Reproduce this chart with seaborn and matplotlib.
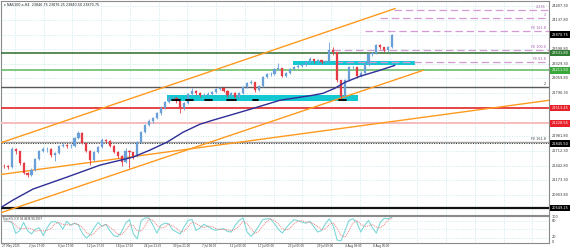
import matplotlib
matplotlib.use("Agg")
import matplotlib.pyplot as plt
import matplotlib.transforms as mtrans
import numpy as np
import pandas as pd
import seaborn as sns

# ---------------- data ----------------
symbol_title = "NAS100.a,H4  23846.75 23876.25 23840.50 23870.75"
stoch_title = "Stoch(5,3,3) 94.4636 90.2937"

first_open = 21440
closes = [21432, 21413, 21747, 21710, 21487, 21302, 21265, 21358, 21561, 21710,
          21747, 21747, 21636, 21673, 21803, 21821, 21803, 21803, 21951, 22044,
          21858, 21710, 21543, 21691, 21784, 21914, 21895, 21803, 21691, 21617,
          21506, 21710, 21691, 21617, 21877, 22062, 22192, 22266, 22322, 22414,
          22507, 22618, 22692, 22692, 22637, 22507, 22600, 22767, 22822, 22785,
          22748, 22748, 22767, 22804, 22859, 22878, 22822, 22748, 22785, 22711,
          22785, 22896, 22971, 22989, 22841, 22915, 23082, 23137, 23137, 23230,
          23249, 23100, 23156, 23230, 23267, 23286, 23304, 23360, 23415, 23378,
          23395, 23360, 23380, 23582, 23545, 23026, 22730, 23026, 23267, 23267,
          23100, 23156, 23323, 23508, 23527, 23675, 23638, 23582, 23638, 23871]
highs = [21480, 21450, 21790, 21770, 21720, 21500, 21330, 21390, 21590, 21740,
         21790, 21780, 21760, 21700, 21830, 21870, 21850, 21840, 21980, 22080,
         22060, 21870, 21730, 21720, 21810, 21950, 21940, 21910, 21820, 21710,
         21630, 21760, 21730, 21700, 21900, 22090, 22220, 22300, 22350, 22440,
         22540, 22650, 22730, 22740, 22710, 22650, 22630, 22790, 22880, 22840,
         22800, 22790, 22800, 22830, 22890, 22910, 22900, 22840, 22810, 22800,
         22810, 22920, 23000, 23030, 23000, 22940, 23100, 23170, 23180, 23260,
         23340, 23260, 23180, 23260, 23290, 23320, 23340, 23390, 23450, 23430,
         23420, 23410, 23410, 23731, 23640, 23560, 23040, 23050, 23290, 23300,
         23280, 23190, 23350, 23540, 23560, 23700, 23700, 23650, 23670, 23895]
lows = [21400, 21380, 21400, 21660, 21460, 21280, 21230, 21240, 21340, 21540,
        21690, 21700, 21600, 21523, 21650, 21780, 21770, 21760, 21790, 21930,
        21840, 21690, 21450, 21520, 21670, 21770, 21860, 21780, 21670, 21590,
        21431, 21490, 21395, 21560, 21600, 21860, 22040, 22170, 22240, 22300,
        22390, 22490, 22600, 22660, 22610, 22414, 22480, 22580, 22750, 22760,
        22720, 22710, 22730, 22750, 22790, 22840, 22800, 22720, 22730, 22690,
        22700, 22770, 22880, 22950, 22810, 22820, 22900, 23060, 23110, 23120,
        23210, 23080, 23080, 23140, 23210, 23250, 23270, 23290, 23340, 23350,
        23340, 23330, 23340, 23370, 23500, 23000, 22655, 22700, 23010, 23230,
        23060, 23080, 23140, 23300, 23480, 23510, 23610, 23560, 23560, 23620]

ma_idx = [-1.0, 2.3, 7.4, 16.1, 24.5, 32.9, 37.2, 41.6, 45.7, 50.0,
          53.3, 62.0, 70.4, 78.8, 81.4, 84.4, 87.0, 90.8, 95.9, 99.7]
ma_val = [20653, 20801, 21005, 21228, 21450, 21598, 21728, 21877, 22062, 22210,
          22285, 22470, 22655, 22748, 22785, 22878, 22989, 23100, 23212, 23304]

stoch_main = [79, 79, 75, 35, 45, 75, 45, 33, 50, 55,
              27, 55, 76, 78, 72, 50, 79, 65, 72, 65,
              35, 18, 30, 55, 75, 60, 68, 45, 27, 23,
              40, 72, 85, 33, 15, 82, 91, 91, 65, 36,
              64, 72, 70, 48, 40, 33, 60, 83, 85, 45,
              55, 68, 60, 52, 46, 50, 52, 42, 40, 65,
              82, 91, 40, 24, 40, 62, 85, 88, 88, 70,
              50, 36, 55, 72, 85, 81, 76, 72, 79, 60,
              40, 45, 70, 88, 62, 10, 8, 45, 82, 88,
              75, 40, 65, 82, 55, 36, 75, 90, 88, 94.46]
stoch_signal = [79, 79, 78, 63, 52, 52, 55, 51, 43, 46,
                44, 46, 53, 70, 75, 67, 67, 65, 72, 67,
                57, 39, 28, 34, 53, 63, 68, 58, 47, 32,
                30, 45, 66, 63, 44, 43, 63, 88, 82, 64,
                55, 57, 69, 63, 53, 40, 44, 59, 76, 71,
                62, 56, 61, 60, 53, 49, 49, 48, 45, 49,
                62, 79, 71, 52, 35, 42, 62, 78, 87, 82,
                69, 52, 47, 54, 71, 79, 81, 76, 76, 70,
                60, 48, 52, 68, 73, 53, 27, 21, 45, 72,
                82, 68, 60, 62, 67, 58, 55, 67, 84, 90.29]

price_ticks = [24407.30, 24137.80, 23868.30, 23598.80, 23329.30, 23059.80, 22790.30,
               22520.80, 22251.30, 21981.80, 21712.30, 21442.80, 21173.30, 20903.80]
time_labels = ["27 May 2025", "2 Jun 17:00", "6 Jun 17:00", "12 Jun 17:00", "18 Jun 17:00",
               "24 Jun 21:00", "30 Jun 21:00", "7 Jul 00:00", "11 Jul 05:00", "17 Jul 05:00",
               "23 Jul 05:00", "29 Jul 09:00", "4 Aug 09:00", "8 Aug 05:00"]
time_tick_idx = [-0.5, 6.4, 13.8, 21.2, 28.6, 35.7, 43.1, 50.5, 57.7, 64.8, 72.4, 79.9, 87.0, 94.1]

# horizontal levels
level_prices = [23532, 23211.5, 22905, 22512.5, 22229, 21886, 21858, 20653]
level_colors = ["#2e6b2e", "#5cb85c", "#5a5a5a", "#e32626", "#f5bcbc", "#a0a0a0", "#333333", "#111111"]
level_widths = [1.1, 1.1, 1.0, 1.2, 1.4, 1.0, 0.7, 1.6]
level_styles = ["-", "-", "-", "-", "-", "-", (0, (1, 1.5)), "-"]
box_prices = [23870.75, 23532, 23211.5, 22512.5, 22229, 21850, 20653]
box_labels = ["23870.75", "23531.80", "23211.50", "22513.45", "22228.55", "21845.50", "20649.25"]
box_colors = ["#000000", "#2e7d32", "#3aa83a", "#e8202a", "#e8202a", "#000000", "#000000"]

# fibonacci expansion levels
fe_prices = [24337, 24188, 23940, 23582, 23360]
fe_labels = ["2.236", "2", "FE 161.8", "FE 100.0", "FE 61.8"]
fe_start = [99.5, 96.0, 92.0, 84.0, 84.5]

# trend lines (index, price) endpoints
trend_x = [(-1.0, 99.8), (-1.0, 106.9), (-1.0, 140.0)]
trend_y = [(21860, 24360), (20560, 23211), (21274, 22664)]

# zones
zone_x = [(41.6, 90.3), (73.7, 104.8)]
zone_y = [(22637, 22748), (23313, 23384)]
mark_x = [(42.9, 44.9), (46.4, 48.2), (51.3, 53.1), (56.9, 59.2), (63.5, 64.8), (85.5, 87.2)]
mark_price = 22665

# ---------------- figure ----------------
W, H = 571, 250
sns.set_theme(style="white")
plt.rcParams['font.family'] = ['DejaVu Sans']
fig = plt.figure(figsize=(W / 100, H / 100), dpi=100)
fig.patch.set_facecolor("white")


def rect(l, t, r, b):
    return [l / W, 1 - b / H, (r - l) / W, (b - t) / H]


ax = fig.add_axes(rect(1, 0.5, 549, 215))
axs = fig.add_axes(rect(1, 215.5, 549, 243))
XL = (-0.765, 139.03)
for a in (ax, axs):
    a.set_xlim(*XL)
    a.set_facecolor("white")
    a.set_xticks([])
    a.set_yticks([])
    for s in a.spines.values():
        s.set_color("#8a8a8a")
        s.set_linewidth(0.8)
ax.set_ylim(20523, 24509)
axs.set_ylim(0, 100)

grid_kw = dict(color="#bfe3ea", lw=0.5, ls=(0, (1.5, 2)), zorder=0)
for gx in np.arange(2.8, 139, 7.334):
    ax.axvline(gx, **grid_kw)
    axs.axvline(gx, **grid_kw)
for p in price_ticks:
    ax.axhline(p, **grid_kw)
for lv in (20, 50, 80):
    axs.axhline(lv, **grid_kw)

# candles
df = pd.DataFrame({"close": closes, "high": highs, "low": lows})
df["open"] = [first_open] + closes[:-1]
df["idx"] = np.arange(len(df))
df["up"] = df["close"] >= df["open"]
up_c, dn_c = "#6a9fd8", "#e63a44"
for up, col in ((True, up_c), (False, dn_c)):
    d = df[df["up"] == up]
    ax.vlines(d["idx"], d["low"], d["high"], color=col, lw=0.6, zorder=4)
    h = (d["close"] - d["open"]).abs().clip(lower=4)
    ax.bar(d["idx"], h, bottom=np.minimum(d["open"], d["close"]), width=0.55,
           color=col, edgecolor=col, lw=0.2, zorder=5)

# levels
for p, c, w, st in zip(level_prices, level_colors, level_widths, level_styles):
    ax.axhline(p, color=c, lw=w, ls=st, zorder=3)

# trend lines
for (x0, x1), (y0, y1) in zip(trend_x, trend_y):
    ax.plot([x0, x1], [y0, y1], color="#ff9a1f", lw=1.0, zorder=3)

# zones
for (x0, x1), (y0, y1) in zip(zone_x, zone_y):
    ax.add_patch(plt.Rectangle((x0, y0), x1 - x0, y1 - y0, color="#14c8d2", zorder=2, lw=0))
for x0, x1 in mark_x:
    ax.plot([x0, x1], [mark_price, mark_price], color="black", lw=1.3, zorder=6)

# fib expansion
fs_lab = 2.4
for p, lab, xs in zip(fe_prices, fe_labels, fe_start):
    ax.plot([xs, XL[1]], [p, p], color="#d39ad6", lw=0.9, ls=(0, (6, 3)), zorder=3)
    ax.text(138.2, p + 22, lab, fontsize=fs_lab, color="#a060a8", ha="right", va="bottom", zorder=7)
ax.text(138.2, 21886 + 18, "FE 161.8", fontsize=fs_lab, color="#444444", ha="right", va="bottom", zorder=7)
ax.text(138.2, 22905 + 18, "2", fontsize=fs_lab, color="#333333", ha="right", va="bottom", zorder=7)

# moving average
sns.lineplot(x=ma_idx, y=ma_val, ax=ax, color="#2e2e96", lw=1.0, zorder=6, estimator=None, sort=False)

# stochastic
sidx = np.arange(len(stoch_main))
sns.lineplot(x=sidx, y=stoch_main, ax=axs, color="#7fd8d8", lw=0.8, estimator=None)
sns.lineplot(x=sidx, y=stoch_signal, ax=axs, color="#f07c7c", lw=0.7, ls=(0, (1, 1)), estimator=None)
for a in (ax, axs):
    a.set_xlabel("")
    a.set_ylabel("")

# texts
ax.text(0.006, 0.988, "\u25BE " + symbol_title, transform=ax.transAxes, fontsize=2.4,
        color="#222222", va="top", ha="left", zorder=8)
axs.text(0.004, 0.93, stoch_title, transform=axs.transAxes, fontsize=1.9,
         color="#333333", va="top", ha="left")

fs_axis = 2.5
trans = mtrans.blended_transform_factory(fig.transFigure, ax.transData)
for p in price_ticks:
    ax.text(552 / W, p, f"{p:.2f}", transform=trans, fontsize=fs_axis, color="#333333",
            va="center", ha="left", clip_on=False)
for p, lab, c in zip(box_prices, box_labels, box_colors):
    ax.text(551.5 / W, p, lab, transform=trans, fontsize=fs_axis, color="white",
            va="center", ha="left", clip_on=False, zorder=10,
            bbox=dict(boxstyle="square,pad=0.4", fc=c, ec="none"))
trans_s = mtrans.blended_transform_factory(fig.transFigure, axs.transData)
for v, lab in ((96, "100"), (80, "80"), (20, "20"), (4, "0")):
    axs.text(552 / W, v, lab, transform=trans_s, fontsize=fs_axis, color="#333333",
             va="center", ha="left", clip_on=False)

trans_x = mtrans.blended_transform_factory(axs.transData, fig.transFigure)
for xi, lab in zip(time_tick_idx, time_labels):
    axs.text(xi, 1 - 246.5 / H, lab, transform=trans_x, fontsize=2.0, color="#333333",
             va="center", ha="left", clip_on=False)

fig.savefig("out.png", dpi=100, facecolor="white")
